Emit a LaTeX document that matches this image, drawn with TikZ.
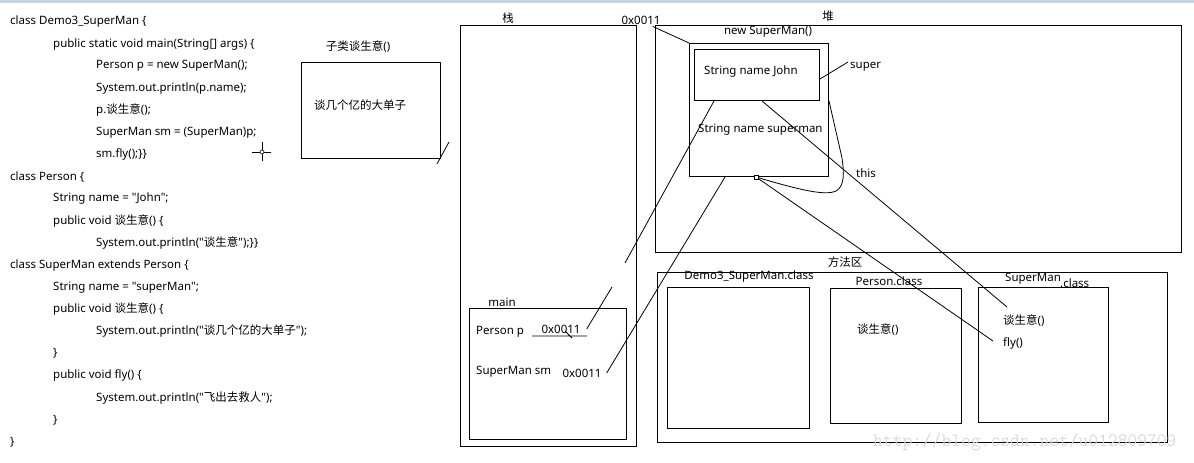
\documentclass[tikz,border=0pt]{standalone}
\usepackage{fontspec}
\setmainfont{Noto Sans}
\newfontfamily\txtfont{Noto Sans}
\newfontfamily\cjk{Noto Sans CJK SC}
\definecolor{band}{RGB}{200,210,225}
\tikzset{
	box/.style={
		draw,
		line width=1pt,
		inner sep=0pt,
		anchor=north west
	},
	lbl/.style={
		inner sep=0pt,
		font=\txtfont\fontsize{11.5}{13}\selectfont
	},
	code/.style={
		lbl,
		anchor=west
	},
	link/.style={
		line width=0.8pt
	}
}

\begin{document}
\begin{tikzpicture}[x=1pt,y=-1pt] %%%% SUPERMAN
	\useasboundingbox (0,0) rectangle (1194,463);
	\fill[band] (0,0) rectangle (1194,3);
	% codi
	\foreach \ind/\txt [count=\i] in {
		0/{class Demo3\_SuperMan \{},
		1/{public static void main(String[] args) \{},
		2/{Person p = new SuperMan();},
		2/{System.out.println(p.name);},
		2/{p.{\cjk 谈生意}();},
		2/{SuperMan sm = (SuperMan)p;},
		2/{sm.fly();\}\}},
		0/{class Person \{},
		1/{String name = "John";},
		1/{public void {\cjk 谈生意}() \{},
		2/{System.out.println("{\cjk 谈生意}");\}\}},
		0/{class SuperMan extends Person \{},
		1/{String name = "superMan";},
		1/{public void {\cjk 谈生意}() \{},
		2/{System.out.println("{\cjk 谈几个亿的大单子}");},
		1/{\}},
		1/{public void fly() \{},
		2/{System.out.println("{\cjk 飞出去救人}");},
		1/{\}},
		0/{\}}}
		\node[code] (c\i) at ({10+43*\ind},{22.1*\i-0.1}) {\txt};
	\draw[line width=0.8pt] (252,152) -- (271,152) (262,142) -- (262,161);
	\draw[line width=0.6pt, fill=white] (262,152) circle (2pt);
	% subclasse
	\node[lbl] (subttl) at (358,47) {{\cjk 子类谈生意}()};
	\node[box, minimum width=139pt, minimum height=96pt] (subbox) at (301,62) {};
	\node[lbl, anchor=west] (subtxt) at (314,105) {\cjk 谈几个亿的大单子};
	\draw[link] ([shift={(-4pt,-5pt)}]subbox.south east) -- ([shift={(8pt,17pt)}]subbox.south east);
	% pila
	\node[lbl] (stklbl) at (508,18) {\cjk 栈};
	\node[box, minimum width=176pt, minimum height=421pt] (stack) at (460,25) {};
	\node[lbl] (mainlbl) at (502,302) {main};
	\node[box, minimum width=157pt, minimum height=131pt] (main) at (469,308) {};
	\node[lbl, anchor=west] (pvar) at (476,332) {Person p};
	\node[lbl] (pval) at (561,329) {0x0011};
	\node[lbl, anchor=west] (smvar) at (476,372) {SuperMan sm};
	\node[lbl] (smval) at (582,373) {0x0011};
	\draw[link] (532,336) -- (587,336) (565,331) -- (572,338);
	% heap
	\node[lbl] (heaplbl) at (828,16) {\cjk 堆};
	\node[box, minimum width=526pt, minimum height=227pt] (heap) at (655,25) {};
	\node[lbl] (addr) at (641,20) {0x0011};
	\node[lbl] (newlbl) at (768,32) {new SuperMan()};
	\node[box, minimum width=139pt, minimum height=133pt] (obj) at (689,43) {};
	\node[box, minimum width=125pt, minimum height=51pt] (john) at (694,49) {};
	\node[lbl, anchor=west] (johntxt) at (704,72) {String name John};
	\node[lbl, anchor=west] (smtxt) at (698,130) {String name superman};
	\node[lbl, anchor=west] (superlbl) at (850,67) {super};
	\node[lbl, anchor=west] (thislbl) at (856,173) {this};
	\node[draw, fill=white, line width=0.6pt, inner sep=0pt, minimum size=4pt] (sq) at ([xshift=-3pt]obj.south) {};
	% metodes
	\node[lbl] (methlbl) at (845,262) {\cjk 方法区};
	\node[box, minimum width=510pt, minimum height=170pt] (method) at (657,272) {};
	\node[lbl] (demolbl) at (749,277) {Demo3\_SuperMan.class};
	\node[box, minimum width=142pt, minimum height=141pt] (demo) at (667,287) {};
	\node[lbl] (perlbl) at (889,281) {Person.class};
	\node[box, minimum width=131pt, minimum height=135pt] (person) at (830,288) {};
	\node[lbl, anchor=west] (pertalk) at (857,330) {{\cjk 谈生意}()};
	\node[lbl, anchor=west] (smname) at (1005,279) {SuperMan};
	\node[lbl, anchor=west] (smclass) at (1060,283) {.class};
	\node[box, minimum width=130pt, minimum height=135pt] (smcls) at (978,287) {};
	\node[lbl, anchor=west] (smtalk) at (1003,321) {{\cjk 谈生意}()};
	\node[lbl, anchor=west] (smfly) at (1003,343) {fly()};
	% fletxes
	\coordinate (gapa) at (625,263);
	\coordinate (gapb) at (612,287);
	\draw[link] ([xshift=-8pt,yshift=-2pt]addr.south east) -- (obj.north west);
	\draw[link] ([yshift=-4pt]john.east) -- ([shift={(-2pt,5pt)}]superlbl.west);
	\draw[link] ([xshift=5pt]john.south) -- ([shift={(4pt,14pt)}]smtalk.west);
	\draw[link] (sq) -- ([shift={(-10pt,2pt)}]smfly.west);
	\draw[link] (sq) .. controls (800,190) and (825,196) .. (836,191) .. controls (845,186) and (844,172) .. (842,158) -- ([yshift=9pt]obj.east);
	\draw[link] ([xshift=20pt]john.south west) -- (gapa);
	\draw[link] (gapb) -- ([xshift=6pt]pval.east);
	\draw[link] ([xshift=-34pt]obj.south) -- ([xshift=5pt]smval.east);
	% marca
	\node[inner sep=0pt, anchor=west, text=gray!30, font=\ttfamily\fontsize{19}{20}\selectfont] (wm) at (873,442) {http://blog.csdn.net/u012809709};
\end{tikzpicture}
\end{document}
